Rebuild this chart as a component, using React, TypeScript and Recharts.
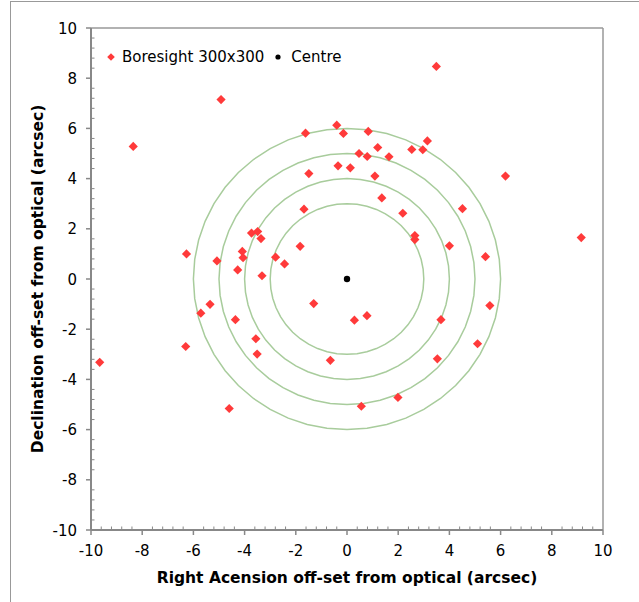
import React from "react";
import { ScatterChart, Scatter, XAxis, YAxis, ReferenceLine, Legend } from "recharts";

// Boresight 300x300 offsets (arcsec)
const boresightRA = [
  -8.35, -4.92, -1.62, -1.49, -1.68, -6.27, -5.08, -3.73, -3.49, -3.36, -4.09, -4.06, -4.27, -3.32, -2.79, -2.44, -1.83,
  3.49, -0.4, -0.14, 0.83, 3.14, 2.53, 2.96, 1.2, 0.47, 0.79, 1.64, -0.35, 0.13, 1.09, 6.19, 1.36, 2.18, 4.51, 2.65, 2.65, 4.0, 5.41, 9.15,
  0.29, 0.78, 3.67, 5.58, 5.1, 3.53, -0.65, 1.99, 0.56, -9.66, -6.3, -5.71, -5.35, -4.36, -3.56, -3.51, -4.6, -1.3,
];
const boresightDec = [
  5.28, 7.15, 5.81, 4.2, 2.78, 1.0, 0.72, 1.83, 1.89, 1.61, 1.1, 0.85, 0.36, 0.13, 0.87, 0.6, 1.3,
  8.47, 6.13, 5.8, 5.88, 5.5, 5.16, 5.15, 5.24, 5.0, 4.88, 4.87, 4.51, 4.43, 4.1, 4.1, 3.23, 2.62, 2.8, 1.73, 1.57, 1.32, 0.89, 1.65,
  -1.64, -1.46, -1.62, -1.06, -2.58, -3.18, -3.24, -4.72, -5.07, -3.32, -2.69, -1.36, -1.01, -1.62, -2.38, -2.99, -5.16, -0.98,
];
const centreRA = [0];
const centreDec = [0];
const ringRadii = [3, 4, 5, 6];
const majorTicks = [-10, -8, -6, -4, -2, 0, 2, 4, 6, 8, 10];
const minorStep = 0.4;

const FONT = "'DejaVu Sans', Verdana, sans-serif";
const AXIS = "#888";

const boresightData = boresightRA.map((x, i) => ({ x, y: boresightDec[i] }));
const centreData = centreRA.map((x, i) => ({ x, y: centreDec[i] }));
const RING_SEGMENTS = 48;
const ringData = ringRadii.map((r) =>
  Array.from({ length: RING_SEGMENTS + 1 }, (_, k) => {
    const a = (2 * Math.PI * k) / RING_SEGMENTS;
    return { x: r * Math.cos(a), y: r * Math.sin(a) };
  })
);
const allTicks = Array.from({ length: Math.round(20 / minorStep) + 1 }, (_, i) =>
  Math.round((-10 + i * minorStep) * 10) / 10
);
const isMajor = (v: number) => majorTicks.some((m) => Math.abs(m - v) < 1e-6);

const XTick = (props: any) => {
  const { x, y, payload } = props;
  const v = payload.value;
  if (isMajor(v)) {
    return (
      <g>
        <line x1={x} x2={x} y1={y} y2={y + 5} stroke={AXIS} strokeWidth={1.5} />
        <text x={x} y={y + 26} textAnchor="middle" fontFamily={FONT} fontSize={15} fill="#000">
          {v}
        </text>
      </g>
    );
  }
  return <line x1={x} x2={x} y1={y} y2={y - 3.5} stroke={AXIS} strokeWidth={1} />;
};

const YTick = (props: any) => {
  const { x, y, payload } = props;
  const v = payload.value;
  if (isMajor(v)) {
    return (
      <g>
        <line x1={x - 5} x2={x} y1={y} y2={y} stroke={AXIS} strokeWidth={1.5} />
        <text x={x - 14} y={y + 5.5} textAnchor="end" fontFamily={FONT} fontSize={15} fill="#000">
          {v}
        </text>
      </g>
    );
  }
  return <line x1={x} x2={x + 3.5} y1={y} y2={y} stroke={AXIS} strokeWidth={1} />;
};

const Diamond = (props: any) => {
  const { cx, cy } = props;
  const h = 4.6;
  return <polygon points={`${cx},${cy - h} ${cx + h},${cy} ${cx},${cy + h} ${cx - h},${cy}`} fill="#ff3a3a" />;
};
const Dot = (props: any) => {
  const { cx, cy } = props;
  return <circle cx={cx} cy={cy} r={3.2} fill="#000" />;
};
const NoPoint = () => <g />;

const renderLegend = () => (
  <div style={{ display: "flex", alignItems: "center", height: 20, fontFamily: FONT, fontSize: 15, color: "#000", whiteSpace: "nowrap" }}>
    <svg width={10} height={10} style={{ display: "block" }}>
      <polygon points="5,1.2 8.8,5 5,8.8 1.2,5" fill="#ff3a3a" />
    </svg>
    <span style={{ marginLeft: 6, lineHeight: "20px" }}>Boresight 300x300</span>
    <svg width={8} height={8} style={{ display: "block", marginLeft: 10 }}>
      <circle cx={4} cy={4} r={2.6} fill="#000" />
    </svg>
    <span style={{ marginLeft: 9, lineHeight: "20px" }}>Centre</span>
  </div>
);

export default function App() {
  return (
    <div style={{ position: "absolute", left: 0, top: 0, width: 639, height: 602, background: "#fff", overflow: "hidden" }}>
      <ScatterChart width={639} height={602} margin={{ top: 28, right: 36, bottom: 32, left: 31 }}>
        <XAxis
          type="number"
          dataKey="x"
          domain={[-10, 10]}
          ticks={allTicks}
          interval={0}
          allowDataOverflow
          height={40}
          tickSize={0}
          tickMargin={0}
          tickLine={false}
          tick={<XTick />}
          axisLine={{ stroke: AXIS, strokeWidth: 2 }}
        />
        <YAxis
          type="number"
          dataKey="y"
          domain={[-10, 10]}
          ticks={allTicks}
          interval={0}
          allowDataOverflow
          width={60}
          tickSize={0}
          tickMargin={0}
          tickLine={false}
          tick={<YTick />}
          axisLine={{ stroke: AXIS, strokeWidth: 2 }}
        />
        <ReferenceLine x={10} stroke="#999" strokeWidth={1.5} />
        <ReferenceLine y={10} stroke="#999" strokeWidth={1.5} />
        {ringData.map((d, i) => (
          <Scatter
            key={`ring${i}`}
            name={`ring${ringRadii[i]}`}
            data={d}
            line={{ stroke: "#a8cc9c", strokeWidth: 1.5 }}
            lineType="joint"
            shape={NoPoint}
            legendType="none"
            isAnimationActive={false}
          />
        ))}
        <Scatter name="Boresight 300x300" data={boresightData} shape={Diamond} isAnimationActive={false} />
        <Scatter name="Centre" data={centreData} shape={Dot} isAnimationActive={false} />
        <Legend
          layout="vertical"
          align="center"
          verticalAlign="middle"
          wrapperStyle={{ top: 47, left: 106, width: "auto" }}
          content={renderLegend}
        />
      </ScatterChart>
      <svg width={639} height={602} style={{ position: "absolute", left: 0, top: 0, pointerEvents: "none" }}>
        <line x1={10.5} y1={1} x2={10.5} y2={602} stroke="#999" strokeWidth={1} />
        <line x1={10} y1={1.5} x2={639} y2={1.5} stroke="#999" strokeWidth={1} />
        <text x={347} y={583} textAnchor="middle" fontFamily={FONT} fontSize={15.5} fontWeight="bold" fill="#000">
          Right Acension off-set from optical (arcsec)
        </text>
        <text
          transform="translate(43,279) rotate(-90)"
          textAnchor="middle"
          fontFamily={FONT}
          fontSize={15.5}
          fontWeight="bold"
          fill="#000"
        >
          Declination off-set from optical (arcsec)
        </text>
      </svg>
    </div>
  );
}
